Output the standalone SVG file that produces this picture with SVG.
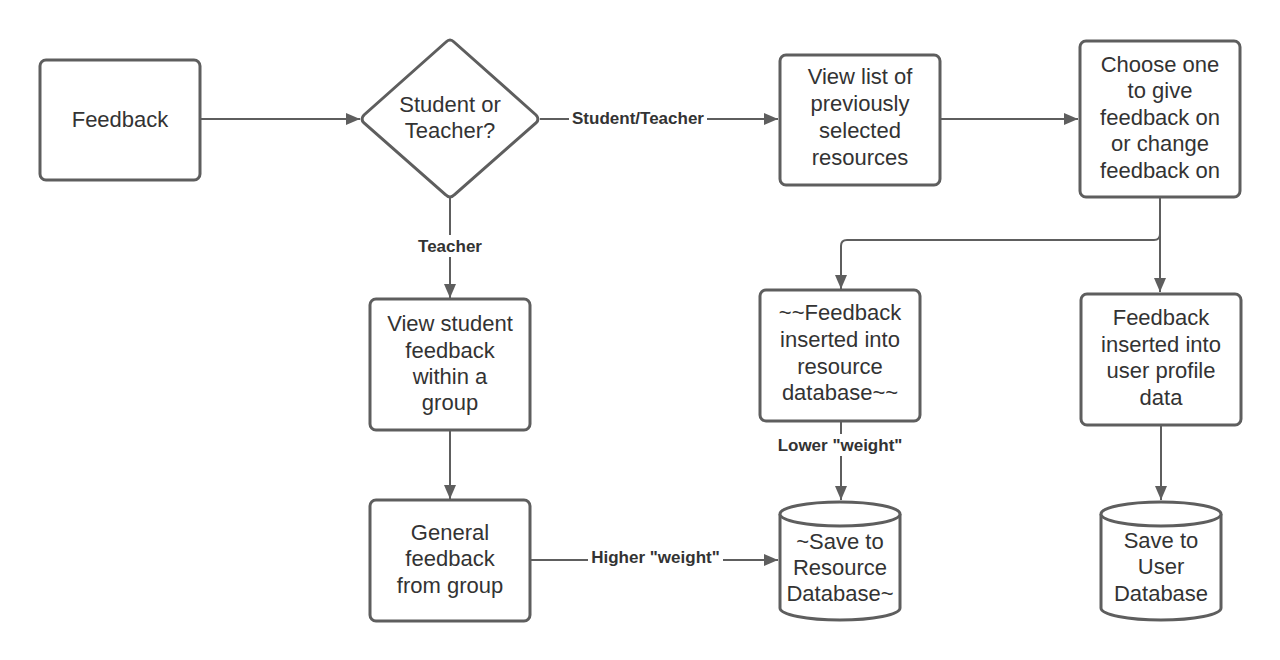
<svg xmlns="http://www.w3.org/2000/svg" width="1280" height="660" viewBox="0 0 1280 660">
<defs>
<style>
.box{fill:#fff;stroke:#5e5e5e;stroke-width:3}
.t{font-family:"Liberation Sans",Arial,sans-serif;font-size:22px;fill:#333;text-anchor:middle}
.lbl{font-family:"Liberation Sans",Arial,sans-serif;font-size:17px;font-weight:bold;fill:#333;text-anchor:middle}
.c{fill:none;stroke:#5e5e5e;stroke-width:2}
.bg{fill:#fff}
</style>
<marker id="ah" viewBox="0 0 14 12" refX="14" refY="6" markerWidth="14" markerHeight="12" markerUnits="userSpaceOnUse" orient="auto">
<path d="M0,0 L14,6 L0,12 Z" fill="#5e5e5e"/>
</marker>
</defs>
<rect width="1280" height="660" fill="#fff"/>
<g id="connectors">
<path class="c" d="M200,119 H360" marker-end="url(#ah)"/>
<path class="c" d="M540,119 H778" marker-end="url(#ah)"/>
<path class="c" d="M940,119 H1078" marker-end="url(#ah)"/>
<path class="c" d="M1160,198 V292" marker-end="url(#ah)"/>
<path class="c" d="M1160,198 V234 Q1160,240 1154,240 H847 Q841,240 841,246 V289" marker-end="url(#ah)"/>
<path class="c" d="M450,198 V298" marker-end="url(#ah)"/>
<path class="c" d="M450,431 V499" marker-end="url(#ah)"/>
<path class="c" d="M530,560 H778" marker-end="url(#ah)"/>
<path class="c" d="M841,421 V500" marker-end="url(#ah)"/>
<path class="c" d="M1161,426 V500" marker-end="url(#ah)"/>
<rect class="bg" x="569" y="107" width="138" height="22"/>
<text class="lbl" x="638" y="124">Student/Teacher</text>
<rect class="bg" x="414" y="235" width="72" height="22"/>
<text class="lbl" x="450" y="252">Teacher</text>
<rect class="bg" x="588" y="546" width="135" height="22"/>
<text class="lbl" x="655.5" y="563">Higher "weight"</text>
<rect class="bg" x="774" y="434" width="132" height="22"/>
<text class="lbl" x="840" y="451">Lower "weight"</text>
</g>
<g id="n-feedback">
<rect class="box" x="40" y="60" width="160" height="120" rx="6"/>
<text class="t" x="120" y="127">Feedback</text>
</g>
<g id="n-decision">
<path class="box" d="M446,42 Q450,38 454,42 L536,115 Q540,119 536,123 L454,195 Q450,199 446,195 L364,123 Q360,119 364,115 Z"/>
<text class="t" x="450" y="112">Student or</text>
<text class="t" x="450" y="138">Teacher?</text>
</g>
<g id="n-viewlist">
<rect class="box" x="780" y="55" width="160" height="130" rx="6"/>
<text class="t" x="860" y="84">View list of</text>
<text class="t" x="860" y="111">previously</text>
<text class="t" x="860" y="138">selected</text>
<text class="t" x="860" y="165">resources</text>
</g>
<g id="n-choose">
<rect class="box" x="1080" y="41" width="160" height="156" rx="6"/>
<text class="t" x="1160" y="72">Choose one</text>
<text class="t" x="1160" y="98">to give</text>
<text class="t" x="1160" y="125">feedback on</text>
<text class="t" x="1160" y="151">or change</text>
<text class="t" x="1160" y="178">feedback on</text>
</g>
<g id="n-resinsert">
<rect class="box" x="760" y="290" width="160" height="131" rx="6"/>
<text class="t" x="840" y="320">~~Feedback</text>
<text class="t" x="840" y="347">inserted into</text>
<text class="t" x="840" y="374">resource</text>
<text class="t" x="840" y="400">database~~</text>
</g>
<g id="n-userinsert">
<rect class="box" x="1081" y="294" width="160" height="131" rx="6"/>
<text class="t" x="1161" y="325">Feedback</text>
<text class="t" x="1161" y="352">inserted into</text>
<text class="t" x="1161" y="378">user profile</text>
<text class="t" x="1161" y="405">data</text>
</g>
<g id="n-viewstudent">
<rect class="box" x="370" y="299" width="160" height="131" rx="6"/>
<text class="t" x="450" y="331">View student</text>
<text class="t" x="450" y="358">feedback</text>
<text class="t" x="450" y="384">within a</text>
<text class="t" x="450" y="410">group</text>
</g>
<g id="n-general">
<rect class="box" x="370" y="500" width="160" height="121" rx="6"/>
<text class="t" x="450" y="540">General</text>
<text class="t" x="450" y="566">feedback</text>
<text class="t" x="450" y="593">from group</text>
</g>
<g id="n-resdb">
<path class="box" d="M780,514 A60,12 0 0 1 900,514 V608 A60,12 0 0 1 780,608 Z"/>
<path class="box" d="M780,514 A60,12 0 0 0 900,514" fill="none"/>
<text class="t" x="840" y="549">~Save to</text>
<text class="t" x="840" y="575">Resource</text>
<text class="t" x="840" y="601">Database~</text>
</g>
<g id="n-userdb">
<path class="box" d="M1101,514 A60,12 0 0 1 1221,514 V608 A60,12 0 0 1 1101,608 Z"/>
<path class="box" d="M1101,514 A60,12 0 0 0 1221,514" fill="none"/>
<text class="t" x="1161" y="548">Save to</text>
<text class="t" x="1161" y="574">User</text>
<text class="t" x="1161" y="601">Database</text>
</g>
</svg>
